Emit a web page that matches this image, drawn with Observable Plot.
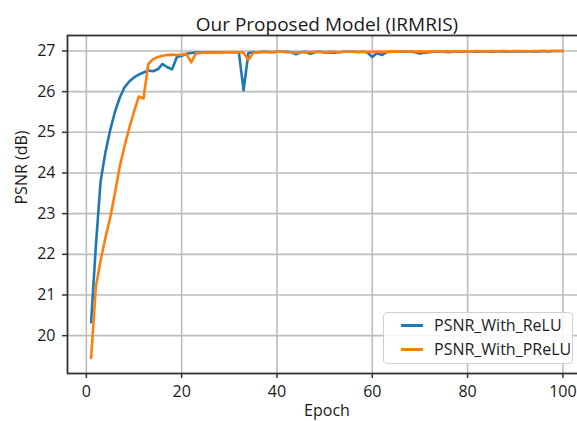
<!DOCTYPE html>
<html>
<head>
<meta charset="utf-8">
<script src="https://cdn.jsdelivr.net/npm/d3@7"></script>
<script src="https://cdn.jsdelivr.net/npm/@observablehq/plot@0.6"></script>
<style>
  html, body { margin: 0; padding: 0; background: #fff; }
  #wrap { position: relative; width: 577px; height: 421px; overflow: hidden; font-family: "Open Sans", sans-serif; }
  #legend { position: absolute; left: 383px; top: 312px; width: 188px; height: 50px;
    border: 1px solid #d0d0d0; border-radius: 4px; background: rgba(255,255,255,0.85); }
  .lg-row { position: absolute; left: 0; height: 24px; width: 188px; }
  .lg-line { position: absolute; left: 17px; width: 22px; height: 2.5px; top: 10px; }
  .lg-text { position: absolute; left: 50px; top: 0; font-size: 16px; line-height: 22px; color: #222; white-space: nowrap; }
</style>
</head>
<body>
<div id="wrap"></div>
<script>
const title = "Our Proposed Model (IRMRIS)";
const xLabel = "Epoch";
const yLabel = "PSNR (dB)";
const seriesNames = ["PSNR_With_ReLU", "PSNR_With_PReLU"];
const seriesColors = ["#1f77b4", "#ff7f0e"];
const xTicks = [0, 20, 40, 60, 80, 100];
const yTicks = [20, 21, 22, 23, 24, 25, 26, 27];
const epochs = d3.range(1, 101);

const psnrReLU = [
  20.33, 22.2, 23.8, 24.5, 25.05, 25.5, 25.85, 26.1, 26.25, 26.35,
  26.42, 26.47, 26.52, 26.5, 26.55, 26.68, 26.6, 26.55, 26.85, 26.88,
  26.93, 26.95, 26.96, 26.96, 26.96, 26.97, 26.97, 26.96, 26.97, 26.97,
  26.97, 26.97, 26.03, 26.95, 26.97, 26.97, 26.98, 26.98, 26.97, 26.98,
  26.98, 26.98, 26.97, 26.92, 26.97, 26.98, 26.93, 26.97, 26.98, 26.96,
  26.97, 26.96, 26.97, 26.98, 26.98, 26.98, 26.97, 26.98, 26.96, 26.85,
  26.95, 26.9, 26.97, 26.98, 26.98, 26.99, 26.98, 26.98, 26.97, 26.94,
  26.96, 26.97, 26.98, 26.98, 26.98, 26.97, 26.98, 26.99, 26.98, 26.99,
  26.99, 26.98, 26.99, 26.99, 26.98, 26.99, 26.99, 26.99, 26.98, 26.99,
  26.99, 26.99, 26.99, 26.99, 26.99, 27.0, 26.99, 27.0, 27.0, 27.0
];
const psnrPReLU = [
  19.45, 21.2, 21.85, 22.4, 22.9, 23.5, 24.15, 24.65, 25.1, 25.5,
  25.88, 25.83, 26.68, 26.8, 26.85, 26.88, 26.9, 26.91, 26.9, 26.91,
  26.93, 26.72, 26.94, 26.95, 26.96, 26.96, 26.96, 26.96, 26.97, 26.97,
  26.97, 26.97, 26.96, 26.78, 26.95, 26.97, 26.97, 26.97, 26.97, 26.98,
  26.98, 26.97, 26.97, 26.96, 26.97, 26.97, 26.97, 26.98, 26.98, 26.97,
  26.98, 26.98, 26.97, 26.98, 26.98, 26.98, 26.98, 26.98, 26.98, 26.98,
  26.98, 26.98, 26.98, 26.99, 26.98, 26.99, 26.99, 26.99, 26.98, 26.99,
  26.98, 26.99, 26.99, 26.99, 26.99, 26.99, 26.99, 26.99, 26.99, 26.99,
  26.99, 27.0, 26.99, 26.99, 27.0, 26.99, 27.0, 27.0, 26.99, 27.0,
  27.0, 27.0, 26.99, 27.0, 27.0, 27.0, 27.0, 27.0, 27.0, 27.0
];

const rows = [];
[psnrReLU, psnrPReLU].forEach((vals, si) => {
  vals.forEach((v, i) => rows.push({epoch: epochs[i], psnr: v, series: seriesNames[si]}));
});

const chart = Plot.plot({
  width: 577,
  height: 421,
  marginLeft: 67,
  marginRight: -9,
  marginTop: 35,
  marginBottom: 48,
  style: {fontFamily: "'Open Sans', sans-serif", fontSize: "16px", color: "#222", overflow: "hidden", background: "#fff"},
  x: {domain: [-3.95, 104.95]},
  y: {domain: [19.07, 27.38]},
  color: {domain: seriesNames, range: seriesColors},
  marks: [
    Plot.gridX(xTicks, {stroke: "#bdbdbd", strokeOpacity: 1, strokeWidth: 1.6}),
    Plot.gridY(yTicks, {stroke: "#bdbdbd", strokeOpacity: 1, strokeWidth: 1.6}),
    Plot.axisX({ticks: xTicks, tickSize: 5, tickPadding: 7, label: null, stroke: "#333", strokeWidth: 1.5, fill: "#1a1a1a"}),
    Plot.axisY({ticks: yTicks, tickSize: 5, tickPadding: 7, label: null, stroke: "#333", strokeWidth: 1.5, fill: "#1a1a1a"}),
    Plot.line(rows, {x: "epoch", y: "psnr", z: "series", stroke: "series", strokeWidth: 2.6, strokeLinejoin: "round", strokeLinecap: "round"}),
    Plot.frame({stroke: "#333", strokeWidth: 1.8}),
    Plot.text([title], {text: d => d, frameAnchor: "top", lineAnchor: "top", dy: -18, fontSize: 19, fill: "#1a1a1a"}),
    Plot.text([xLabel], {text: d => d, frameAnchor: "bottom", lineAnchor: "top", dy: 31, fontSize: 16, fill: "#1a1a1a"}),
    Plot.text([yLabel], {text: d => d, frameAnchor: "left", lineAnchor: "top", rotate: -90, dx: -52, fontSize: 16, fill: "#1a1a1a"})
  ]
});

const wrap = document.getElementById("wrap");
wrap.appendChild(chart);

const legend = document.createElement("div");
legend.id = "legend";
seriesNames.forEach((name, i) => {
  const row = document.createElement("div");
  row.className = "lg-row";
  row.style.top = (i * 24 + 1) + "px";
  const ln = document.createElement("div");
  ln.className = "lg-line";
  ln.style.background = seriesColors[i];
  const tx = document.createElement("div");
  tx.className = "lg-text";
  tx.textContent = name;
  row.appendChild(ln);
  row.appendChild(tx);
  legend.appendChild(row);
});
wrap.appendChild(legend);
</script>
</body>
</html>
